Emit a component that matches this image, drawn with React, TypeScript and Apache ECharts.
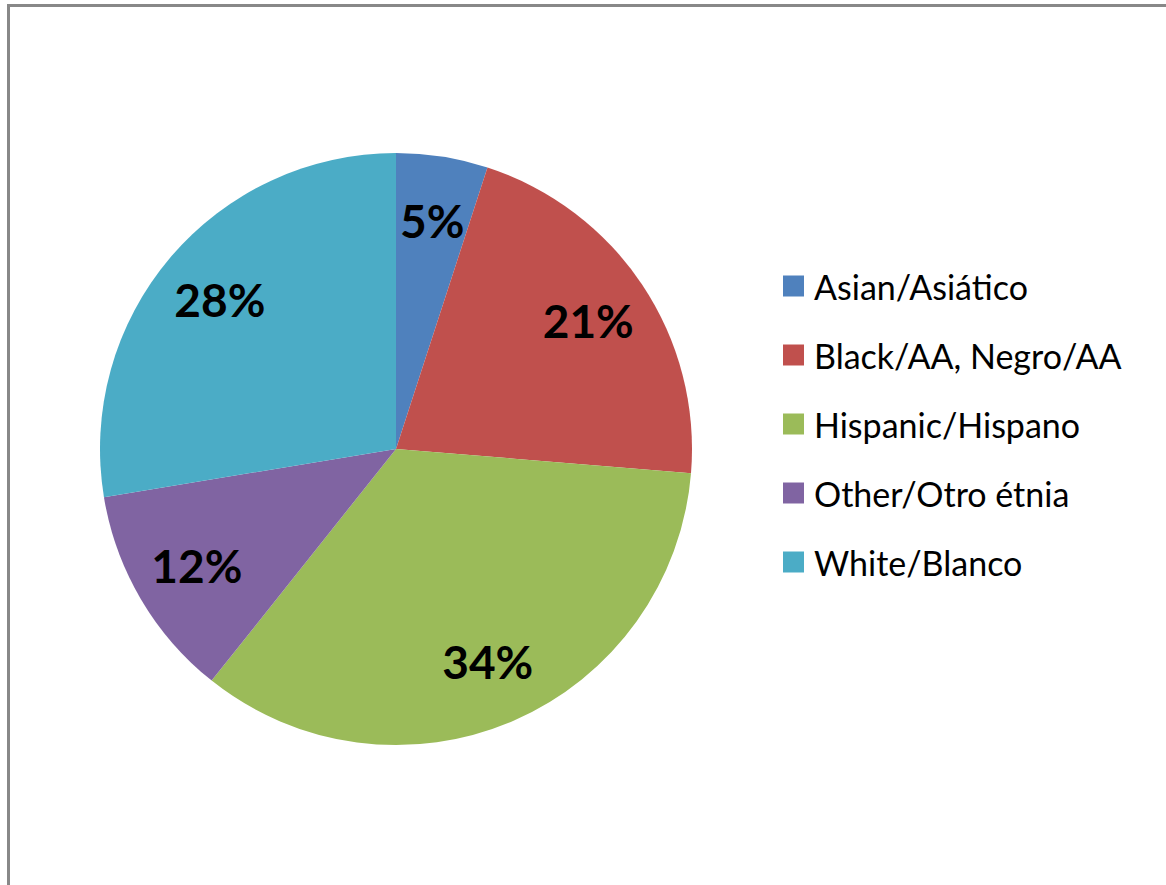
import React, { useEffect, useRef } from "react";
import * as echarts from "echarts";

const categories = [
  "Asian/Asiático",
  "Black/AA, Negro/AA",
  "Hispanic/Hispano",
  "Other/Otro étnia",
  "White/Blanco",
];
const values = [5.0, 21.3, 34.4, 11.7, 27.6];
const colors = ["#4F81BD", "#C0504D", "#9BBB59", "#8064A2", "#4BACC6"];

export default function App() {
  const ref = useRef<HTMLDivElement>(null);

  useEffect(() => {
    if (!ref.current) return;
    const chart = echarts.init(ref.current, null, { renderer: "svg" });
    const data = categories.map((name, i) => ({
      name,
      value: values[i],
      itemStyle: { color: colors[i] },
    }));
    chart.setOption({
      animation: false,
      backgroundColor: "transparent",
      legend: {
        orient: "vertical",
        left: 783,
        top: 269,
        padding: 0,
        icon: "rect",
        itemWidth: 21,
        itemHeight: 21,
        itemGap: 35,
        data: categories,
        textStyle: {
          fontFamily: "Lato",
          fontSize: 34,
          lineHeight: 30,
          color: "#000",
          padding: [0, 0, 0, 5],
        },
      },
      series: [
        {
          type: "pie",
          center: [396, 449],
          radius: [0, 296],
          startAngle: 90,
          clockwise: true,
          silent: true,
          label: { show: false },
          labelLine: { show: false },
          itemStyle: { borderWidth: 0 },
          data,
        },
        {
          type: "pie",
          center: [396, 449],
          radius: [160, 296],
          startAngle: 90,
          clockwise: true,
          silent: true,
          legendHoverLink: false,
          itemStyle: { color: "rgba(0,0,0,0)", borderWidth: 0 },
          labelLine: { show: false },
          label: {
            show: true,
            position: "inside",
            fontFamily: "Lato",
            fontWeight: "bold",
            fontSize: 46,
            color: "#000",
            formatter: (p: any) => Math.round(p.value) + "%",
          },
          data: categories.map((name, i) => ({
            name,
            value: values[i],
            itemStyle: { color: "rgba(0,0,0,0)" },
          })),
        },
      ],
    });
    return () => chart.dispose();
  }, []);

  return (
    <div
      style={{
        position: "absolute",
        left: 0,
        top: 0,
        width: 1166,
        height: 885,
        overflow: "hidden",
        background: "#fff",
      }}
    >
      <div
        style={{
          position: "absolute",
          left: 7,
          top: 4,
          width: 1200,
          height: 900,
          borderLeft: "3px solid #888",
          borderTop: "3px solid #888",
        }}
      />
      <div
        ref={ref}
        style={{ position: "absolute", left: 0, top: 0, width: 1166, height: 885 }}
      />
    </div>
  );
}
